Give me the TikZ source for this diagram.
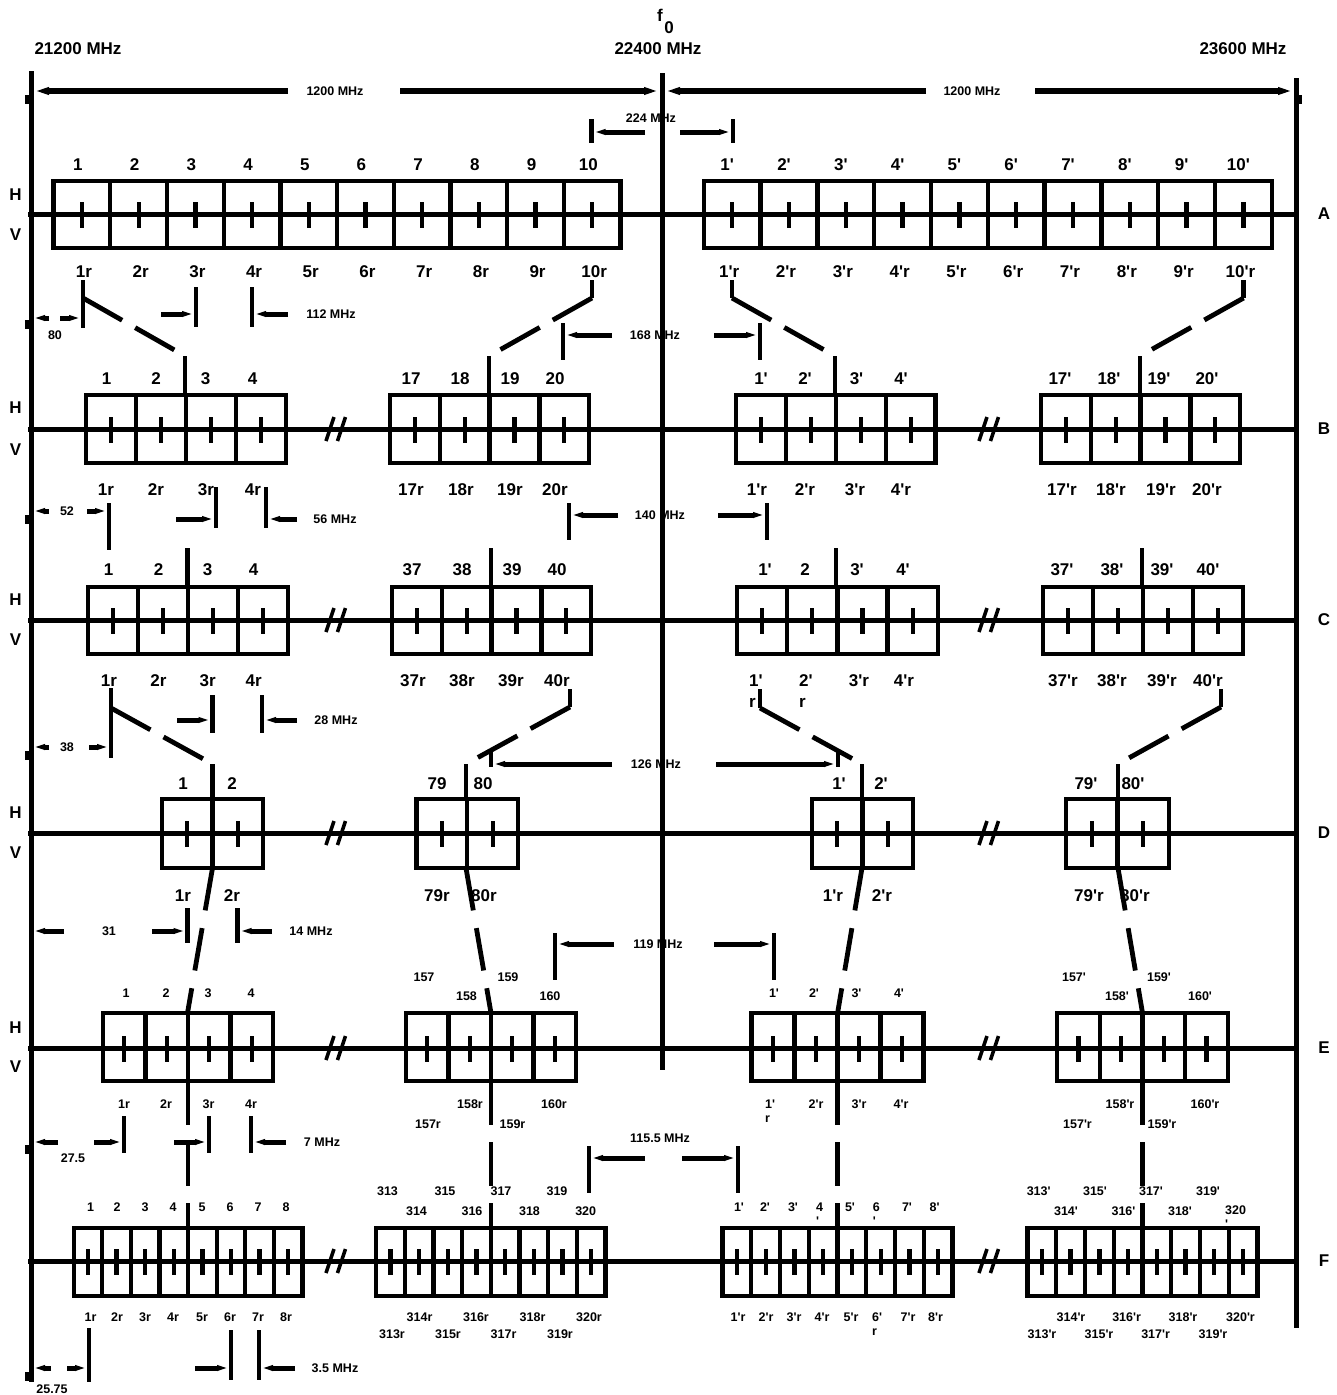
\documentclass[tikz,border=0pt]{standalone}
\usepackage{fontspec}
\newfontfamily\lf{Liberation Sans}
\usetikzlibrary{arrows.meta}
\newcommand\boxgrp[6]{%
  \foreach \k in {1,...,#3}{%
    \draw[bx] ({#1+(\k-1)*#2},#4) rectangle ({#1+\k*#2},#5);
    \draw[ct] ({#1+(\k-0.5)*#2},{#6-12}) -- ({#1+(\k-0.5)*#2},{#6+14});
  }}
\newcommand\brkmark[3]{%
  \draw[bk] ({#1-4},{#3+12}) -- ({#1+4},{#3-12});
  \draw[bk] ({#2-4},{#3+12}) -- ({#2+4},{#3-12});}
\begin{document}
\begin{tikzpicture}[x=1pt,y=-1pt,
 bx/.style={line width=4.3pt},
 ct/.style={line width=4.3pt},
 ax/.style={line width=5pt},
 tk/.style={line width=4.5pt},
 bk/.style={line width=3.6pt},
 cn/.style={line width=4.8pt},
 dsh/.style={line width=4.8pt,dash pattern=on 45pt off 15pt},
 dsh2/.style={line width=4.5pt,dash pattern=on 44pt off 17pt},
 dsh3/.style={line width=4.8pt,dash pattern=on 43pt off 18pt},
 dm/.style={line width=5pt,-{Triangle[length=12pt,width=5pt]}},
 dmL/.style={line width=6.5pt,-{Triangle[length=16pt,width=6.5pt]}},
 lb/.style={font=\lf\bfseries\fontsize{17}{21}\selectfont,inner sep=0pt},
 sm/.style={font=\lf\bfseries\fontsize{12.5}{14}\selectfont,inner sep=0pt},
]
\useasboundingbox (0,0) rectangle (1337,1395);

% main frame lines
\draw[ax] (31,71) -- (31,1382);
\draw[ax] (662,73) -- (662,1070);
\draw[ax] (1296,78) -- (1296,1328);
\foreach \yy in {95,320,515,751,1145,1372} \fill (24.5,\yy) rectangle (31,\yy+9);
\fill (1296,95) rectangle (1302,104);

% axes
\foreach \yy in {214,429,620,833,1048,1261} \draw[ax] (28,\yy) -- (1299,\yy);

% boxes
\boxgrp{53.6}{56.7}{10}{181}{248}{214}
\boxgrp{703.8}{56.8}{10}{181}{248}{214}
\boxgrp{86.2}{49.9}{4}{395}{463}{429}
\boxgrp{390}{49.8}{4}{395}{463}{429}
\boxgrp{736}{49.9}{4}{395}{463}{429}
\boxgrp{1041}{49.8}{4}{395}{463}{429}
\boxgrp{88}{50}{4}{587}{654}{620}
\boxgrp{392}{49.8}{4}{587}{654}{620}
\boxgrp{737}{50.2}{4}{587}{654}{620}
\boxgrp{1043}{50}{4}{587}{654}{620}
\boxgrp{162}{50.5}{2}{799}{868}{833}
\boxgrp{416.5}{50.8}{2}{799}{868}{833}
\boxgrp{812}{50.5}{2}{799}{868}{833}
\boxgrp{1066}{51.5}{2}{799}{868}{833}
\boxgrp{103}{42.5}{4}{1013}{1081}{1048}
\boxgrp{406}{42.5}{4}{1013}{1081}{1048}
\boxgrp{751.6}{43}{4}{1013}{1081}{1048}
\boxgrp{1057}{42.75}{4}{1013}{1081}{1048}
\boxgrp{73.7}{28.6}{8}{1228}{1296}{1261}
\boxgrp{376}{28.7}{8}{1228}{1296}{1261}
\boxgrp{722.6}{28.74}{8}{1228}{1296}{1261}
\boxgrp{1027.5}{28.74}{8}{1228}{1296}{1261}

% break marks
\foreach \yy in {429,620,833,1048,1261}{\brkmark{330}{341.5}{\yy}\brkmark{983}{994.5}{\yy}}

% top labels
\node[lb] (f21200) at (78,49) {21200 MHz};
\node[lb] (f22400) at (658,49) {22400 MHz};
\node[lb] (f23600) at (1243,49) {23600 MHz};
\node[lb] (ff) at (660,15) {f};
\node[lb] (f0) at (669,28) {0};

% H / V and row letters
\foreach \yy/\t [count=\n] in {195/H,235/V,408/H,450/V,600/H,640/V,813/H,853/V,1028/H,1067/V}
  \node[lb] (hv\n) at (15.6,\yy) {\t};
\foreach \yy/\t in {214/A,429/B,620/C,833/D,1048/E,1261/F}
  \node[lb] (row\t) at (1324,\yy) {\t};

% row A labels
\foreach \i in {1,...,10}{
  \node[lb] (At\i) at ({53.6+(\i-0.5)*56.7-4},165) {\i};
  \node[lb] (Ab\i) at ({53.6+(\i-0.5)*56.7+2},272) {\i r};
  \node[lb] (Art\i) at ({703.8+(\i-0.5)*56.8-5},165) {\i'};
  \node[lb] (Arb\i) at ({703.8+(\i-0.5)*56.8-3},272) {\i'r};
}
% row B labels
\foreach \x/\t [count=\n] in {106.5/1,156/2,205.5/3,252.5/4,411/17,460/18,510/19,555/20,761/1',805/2',856.5/3',901/4',1060/17',1109/18',1159/19',1207/20'}
  \node[lb] (Bt\n) at (\x,379) {\t};
\foreach \x/\t [count=\n] in {106/1r,156/2r,206/3r,253/4r,411/17r,461/18r,510/19r,555/20r,757/1'r,805/2'r,855/3'r,901/4'r,1062/17'r,1111/18'r,1161/19'r,1207/20'r}
  \node[lb] (Bb\n) at (\x,490) {\t};
% row C labels
\foreach \x/\t [count=\n] in {108.5/1,158.5/2,207.6/3,253.6/4,412/37,462/38,512/39,557/40,765/1',805/2,857/3',903/4',1062/37',1112/38',1162/39',1208/40'}
  \node[lb] (Ct\n) at (\x,570) {\t};
\foreach \x/\t [count=\n] in {109/1r,158.5/2r,207.6/3r,253.6/4r,413/37r,462/38r,511/39r,557/40r,859/3'r,904/4'r,1063/37'r,1112/38'r,1162/39'r,1208/40'r}
  \node[lb] (Cb\n) at (\x,681) {\t};
\node[lb,align=left,anchor=west] (Cb1p) at (749,691.5) {1'\\r};
\node[lb,align=left,anchor=west] (Cb2p) at (799,691.5) {2'\\r};
% row D labels
\foreach \x/\t [count=\n] in {183/1,232/2,437/79,483/80,839/1',881/2',1086/79',1133/80'}
  \node[lb] (Dt\n) at (\x,784) {\t};
\foreach \x/\t [count=\n] in {183/1r,232/2r,437/79r,484/80r,833/1'r,882/2'r,1089/79'r,1135/80'r}
  \node[lb] (Db\n) at (\x,896) {\t};
% row E labels
\foreach \x/\t [count=\n] in {126/1,166/2,208/3,251/4,774/1',814/2',856.5/3',899/4'}
  \node[sm] (Et\n) at (\x,993) {\t};
\foreach \x/\t [count=\n] in {424/157,508/159,1074/157',1159/159'}
  \node[sm] (Eu\n) at (\x,977) {\t};
\foreach \x/\t [count=\n] in {466.5/158,550/160,1117/158',1200/160'}
  \node[sm] (Ev\n) at (\x,996) {\t};
\foreach \x/\t [count=\n] in {124/1r,166/2r,208.5/3r,251/4r,470/158r,554/160r,816/2'r,859/3'r,901/4'r,1120/158'r,1205/160'r}
  \node[sm] (Eb\n) at (\x,1104) {\t};
\foreach \x/\t [count=\n] in {428/157r,512.5/159r,1077.5/157'r,1162/159'r}
  \node[sm] (Ec\n) at (\x,1124) {\t};
\node[sm,align=left,anchor=west] (Eb1p) at (765,1111) {1'\\r};
% row F labels
\foreach \x/\t [count=\n] in {90.6/1,117/2,145/3,173/4,202/5,230/6,258/7,286/8,739/1',765/2',793/3',850/5',907/7',934.6/8'}
  \node[sm] (Ft\n) at (\x,1207) {\t};
\node[sm,align=left,anchor=west] (Ft4p) at (816,1214) {4\\'};
\node[sm,align=left,anchor=west] (Ft6p) at (872.6,1214) {6\\'};
\node[sm,align=left,anchor=west] (Ft320p) at (1225,1217) {320\\'};
\foreach \x/\t [count=\n] in {387.5/313,445/315,501/317,557/319,1038.7/313',1095/315',1151/317',1208/319'}
  \node[sm] (Fu\n) at (\x,1191) {\t};
\foreach \x/\t [count=\n] in {416.5/314,472/316,529.5/318,585.7/320,1066/314',1123.5/316',1180/318'}
  \node[sm] (Fv\n) at (\x,1211) {\t};
\foreach \x/\t [count=\n] in {90.6/1r,117/2r,145/3r,173/4r,202/5r,230/6r,258/7r,286/8r,419.6/314r,476/316r,532.6/318r,589/320r,738/1'r,766/2'r,794/3'r,822/4'r,851/5'r,908/7'r,935.5/8'r,1071/314'r,1126.6/316'r,1183/318'r,1240.5/320'r}
  \node[sm] (Fb\n) at (\x,1317) {\t};
\node[sm,align=left,anchor=west] (Fb6p) at (872,1324) {6'\\r};
\foreach \x/\t [count=\n] in {392/313r,448/315r,503.6/317r,560/319r,1042/313'r,1099/315'r,1155.6/317'r,1213/319'r}
  \node[sm] (Fc\n) at (\x,1334) {\t};

% ---- connectors A -> B
\draw[tk] (83,280) -- (83,328);
\draw[dsh] (83,298) -- (185,356);
\draw[cn] (185,356) -- (185,395);
\draw[tk] (592,280) -- (592,298);
\draw[dsh] (592,298) -- (489,356);
\draw[cn] (489,356) -- (489,395);
\draw[tk] (732,280) -- (732,298);
\draw[dsh] (732,298) -- (835,356);
\draw[cn] (835,356) -- (835,395);
\draw[tk] (1243.6,280) -- (1243.6,298);
\draw[dsh] (1243.6,298) -- (1140,356);
\draw[cn] (1140,356) -- (1140,395);
% ---- B -> C
\draw[tk] (109,503) -- (109,550);
\foreach \x in {187.5,491,836,1142} \draw[cn] (\x,548) -- (\x,587);
% ---- C -> D
\draw[tk] (111,688) -- (111,758);
\draw[dsh] (111,708) -- (212.5,764);
\draw[cn] (212.5,764) -- (212.5,799);
\draw[tk] (570,689) -- (570,707);
\draw[dsh] (570,707) -- (466,764);
\draw[cn] (466,764) -- (466,799);
\draw[tk] (760,689) -- (760,708);
\draw[dsh] (760,708) -- (862,764);
\draw[cn] (862,764) -- (862,799);
\draw[tk] (1221,689) -- (1221,707);
\draw[dsh] (1221,707) -- (1118,764);
\draw[cn] (1118,764) -- (1118,799);
% ---- D -> E
\draw[dsh3] (212.5,868) -- (187.5,1013);
\draw[dsh3] (466,868) -- (491,1013);
\draw[dsh3] (862,868) -- (837.6,1013);
\draw[dsh3] (1118,868) -- (1142.5,1013);
% ---- E -> F
\foreach \x in {188,491,837.5,1142.5} \draw[dsh2] (\x,1081) -- (\x,1228);

% ---- dimension ticks
\draw[tk] (591.5,119) -- (591.5,143);
\draw[tk] (733,119) -- (733,143);
\draw[tk] (196,287) -- (196,327);
\draw[tk] (252,287) -- (252,327);
\draw[tk] (563,323) -- (563,360);
\draw[tk] (760,323) -- (760,360);
\draw[tk] (216,487) -- (216,528);
\draw[tk] (266,487) -- (266,528);
\draw[tk] (569,503) -- (569,540);
\draw[tk] (767,503) -- (767,540);
\draw[tk] (212.5,695) -- (212.5,733);
\draw[tk] (262,695) -- (262,733);
\draw[tk] (491,752) -- (491,767);
\draw[tk] (838,752) -- (838,767);
\draw[tk] (187.5,908) -- (187.5,943);
\draw[tk] (237.5,908) -- (237.5,943);
\draw[tk] (555,933) -- (555,980);
\draw[tk] (774,933) -- (774,980);
\draw[tk] (124,1116) -- (124,1153);
\draw[tk] (209,1116) -- (209,1153);
\draw[tk] (251,1116) -- (251,1153);
\draw[tk] (589,1146) -- (589,1193);
\draw[tk] (738,1146) -- (738,1193);
\draw[tk] (89,1328) -- (89,1382);
\draw[tk] (231,1330) -- (231,1380);
\draw[tk] (259,1330) -- (259,1380);

% ---- dimension arrows and texts
\draw[dmL] (288,91) -- (33,91);
\draw[dmL] (400,91) -- (660,91);
\draw[dmL] (926,91) -- (664,91);
\draw[dmL] (1035,91) -- (1294,91);
\node[sm] (d1200a) at (335,91) {1200 MHz};
\node[sm] (d1200b) at (972,91) {1200 MHz};

\draw[dm] (645,132) -- (593.5,132);
\draw[dm] (680,132) -- (731,132);
\node[sm] (d224) at (651,118) {224 MHz};

\draw[dm] (49,318) -- (33,318);
\draw[dm] (60,318) -- (81,318);
\node[sm] (d80) at (55,335) {80};
\draw[dm] (161,314) -- (194,314);
\draw[dm] (288,314) -- (254,314);
\node[sm] (d112) at (331,314) {112 MHz};
\draw[dm] (612,335) -- (565,335);
\draw[dm] (714,335) -- (758,335);
\node[sm] (d168) at (655,335) {168 MHz};

\draw[dm] (49,511) -- (33,511);
\draw[dm] (87,511) -- (107,511);
\node[sm] (d52) at (67,511) {52};
\draw[dm] (176,519) -- (214,519);
\draw[dm] (297,519) -- (268,519);
\node[sm] (d56) at (335,519) {56 MHz};
\draw[dm] (618,515) -- (571,515);
\draw[dm] (718,515) -- (765,515);
\node[sm] (d140) at (660,515) {140 MHz};

\draw[dm] (49,747) -- (33,747);
\draw[dm] (89,747) -- (109,747);
\node[sm] (d38) at (67,747) {38};
\draw[dm] (177,720) -- (210.5,720);
\draw[dm] (297,720) -- (264,720);
\node[sm] (d28) at (336,720) {28 MHz};
\draw[dm] (612,764) -- (493,764);
\draw[dm] (716,764) -- (836,764);
\node[sm] (d126) at (656,764) {126 MHz};

\draw[dm] (64,931) -- (33,931);
\draw[dm] (152,931) -- (185.5,931);
\node[sm] (d31) at (109,931) {31};
\draw[dm] (272,931) -- (239.5,931);
\node[sm] (d14) at (311,931) {14 MHz};
\draw[dm] (614,944) -- (557,944);
\draw[dm] (714,944) -- (772,944);
\node[sm] (d119) at (658,944) {119 MHz};

\draw[dm] (58,1142) -- (33,1142);
\draw[dm] (94,1142) -- (122,1142);
\node[sm] (d275) at (73,1158) {27.5};
\draw[dm] (174,1142) -- (207,1142);
\draw[dm] (286,1142) -- (253,1142);
\node[sm] (d7) at (322,1142) {7 MHz};
\draw[dm] (645,1158) -- (591,1158);
\draw[dm] (682,1158) -- (736,1158);
\node[sm] (d1155) at (660,1138) {115.5 MHz};

\draw[dm] (51,1368) -- (33,1368);
\draw[dm] (67,1368) -- (87,1368);
\node[sm] (d2575) at (52,1389) {25.75};
\draw[dm] (195,1368) -- (229,1368);
\draw[dm] (295,1368) -- (261,1368);
\node[sm] (d35) at (335,1368) {3.5 MHz};
\end{tikzpicture}
\end{document}
